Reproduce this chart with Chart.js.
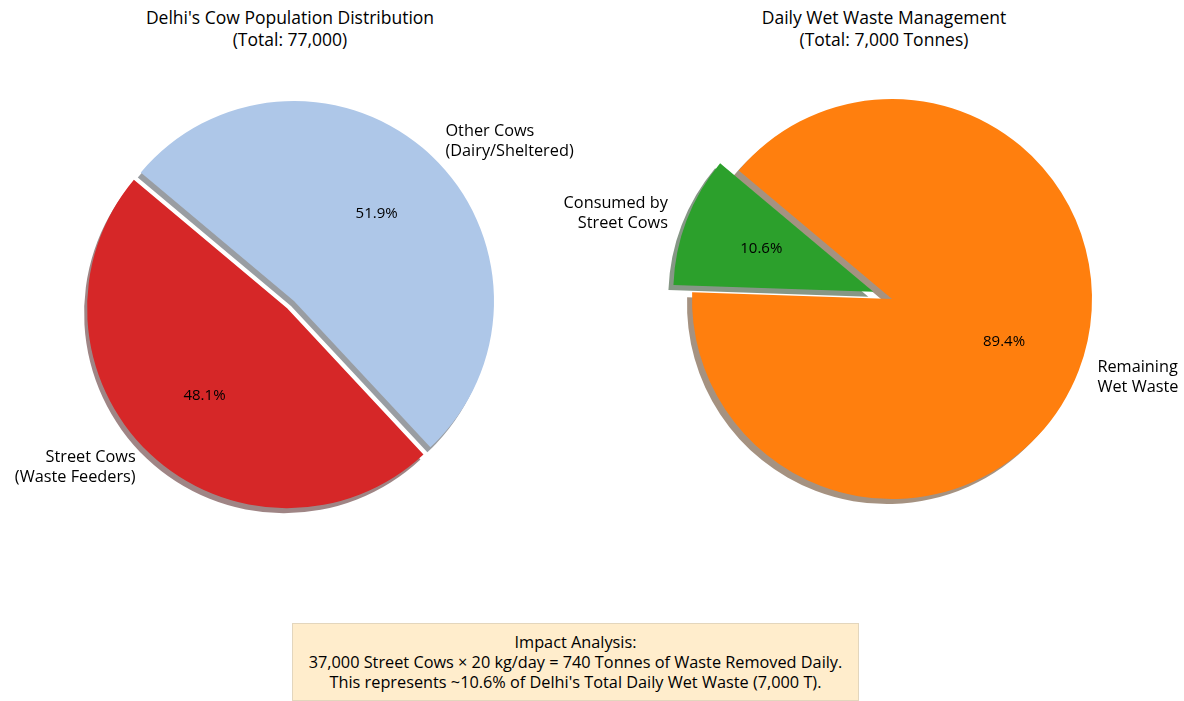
<!DOCTYPE html>
<html lang="en">
<head>
<meta charset="UTF-8">
<title>Delhi Cows and Wet Waste</title>
<script src="https://cdn.jsdelivr.net/npm/chart.js@4.4.1/dist/chart.umd.min.js"></script>
<style>
  html, body { margin: 0; padding: 0; background: #fff; }
  body { width: 1184px; height: 701px; position: relative; overflow: hidden; font-family: "Open Sans", sans-serif; color: #000; }
  .title { position: absolute; top: 6px; width: 500px; text-align: center; font-size: 17.5px; line-height: 22px; }
  .wrap { position: absolute; top: 0; height: 610px; }
  .box { position: absolute; left: 292px; top: 623px; width: 567px; height: 78px; box-sizing: border-box;
         background: #ffedcc; border: 1px solid #e3d6bd; text-align: center; font-size: 16.3px; line-height: 20px; padding-top: 8px; }
</style>
</head>
<body>
  <div class="title" style="left:40px">Delhi's Cow Population Distribution<br>(Total: 77,000)</div>
  <div class="title" style="left:634px">Daily Wet Waste Management<br>(Total: 7,000 Tonnes)</div>

  <div class="wrap" style="left:0; width:592px"><canvas id="cowChart"></canvas></div>
  <div class="wrap" style="left:500px; width:684px"><canvas id="wasteChart"></canvas></div>

  <div class="box">
    Impact Analysis:<br>
    37,000 Street Cows × 20 kg/day = 740 Tonnes of Waste Removed Daily.<br>
    This represents ~10.6% of Delhi's Total Daily Wet Waste (7,000 T).
  </div>

<script>
// cow population (clockwise order from the 140° start)
const cowLabels = ['Other Cows\n(Dairy/Sheltered)', 'Street Cows\n(Waste Feeders)'];
const cowValues = [40000, 37000];
const cowColors = ['#aec7e8', '#d62728'];

// daily wet waste, tonnes
const wasteLabels = ['Remaining\nWet Waste', 'Consumed by\nStreet Cows'];
const wasteValues = [6260, 740];
const wasteColors = ['#ff7f0e', '#2ca02c'];

const FONT = '"Open Sans", sans-serif';

// pull a slice away from the centre, like matplotlib's explode
const explodePlugin = {
  id: 'explode',
  afterDatasetsUpdate(chart, args, opts) {
    const meta = chart.getDatasetMeta(0);
    meta.data.forEach((arc, i) => {
      const e = opts.amount[i] || 0;
      if (!e) return;
      const mid = (arc.startAngle + arc.endAngle) / 2;
      arc.x += Math.cos(mid) * e * arc.outerRadius;
      arc.y += Math.sin(mid) * e * arc.outerRadius;
    });
  }
};

// darker, half transparent copy of each wedge under the pie
const shadowPlugin = {
  id: 'pieShadow',
  beforeDatasetsDraw(chart, args, opts) {
    const ctx = chart.ctx;
    ctx.save();
    ctx.translate(opts.dx, opts.dy);
    ctx.filter = 'brightness(0.3)';
    ctx.globalAlpha = 0.5;
    chart.getDatasetMeta(0).data.forEach(arc => arc.draw(ctx));
    ctx.restore();
  }
};

// outside labels and percentages
const labelPlugin = {
  id: 'pieLabels',
  afterDatasetsDraw(chart) {
    const ctx = chart.ctx;
    const ds = chart.data.datasets[0];
    const total = ds.data.reduce((a, b) => a + b, 0);
    ctx.save();
    ctx.fillStyle = '#000';
    ctx.textBaseline = 'middle';
    chart.getDatasetMeta(0).data.forEach((arc, i) => {
      const mid = (arc.startAngle + arc.endAngle) / 2;
      const r = arc.outerRadius;
      const c = Math.cos(mid), s = Math.sin(mid);
      // percent
      ctx.font = '15px ' + FONT;
      ctx.textAlign = 'center';
      ctx.fillText((ds.data[i] / total * 100).toFixed(1) + '%', arc.x + c * r * 0.6, arc.y + s * r * 0.6);
      // label
      ctx.font = '16.3px ' + FONT;
      ctx.textAlign = c < 0 ? 'right' : 'left';
      const lines = chart.data.labels[i].split('\n');
      const lh = 20;
      const x = arc.x + c * r * 1.1, y = arc.y + s * r * 1.1 - (lines.length - 1) * lh / 2;
      lines.forEach((t, k) => ctx.fillText(t, x, y + k * lh));
    });
    ctx.restore();
  }
};

function makePie(id, labels, values, colors, explode, pad, shadow) {
  return new Chart(document.getElementById(id), {
    type: 'pie',
    data: {
      labels: labels,
      datasets: [{ data: values, backgroundColor: colors, borderWidth: 0 }]
    },
    options: {
      responsive: true,
      maintainAspectRatio: false,
      animation: false,
      rotation: -50,
      radius: 200,
      layout: { padding: pad },
      events: [],
      plugins: {
        legend: { display: false },
        tooltip: { enabled: false },
        explode: { amount: explode },
        pieShadow: shadow
      }
    },
    plugins: [explodePlugin, shadowPlugin, labelPlugin]
  });
}

makePie('cowChart', cowLabels, cowValues, cowColors, [0, 0.05],
  { left: 0, right: 4, top: 0, bottom: 8 }, { dx: -3, dy: 5 });
makePie('wasteChart', wasteLabels, wasteValues, wasteColors, [0, 0.1],
  { left: 100, right: 0, top: 0, bottom: 12 }, { dx: -5, dy: 5 });
</script>
</body>
</html>
